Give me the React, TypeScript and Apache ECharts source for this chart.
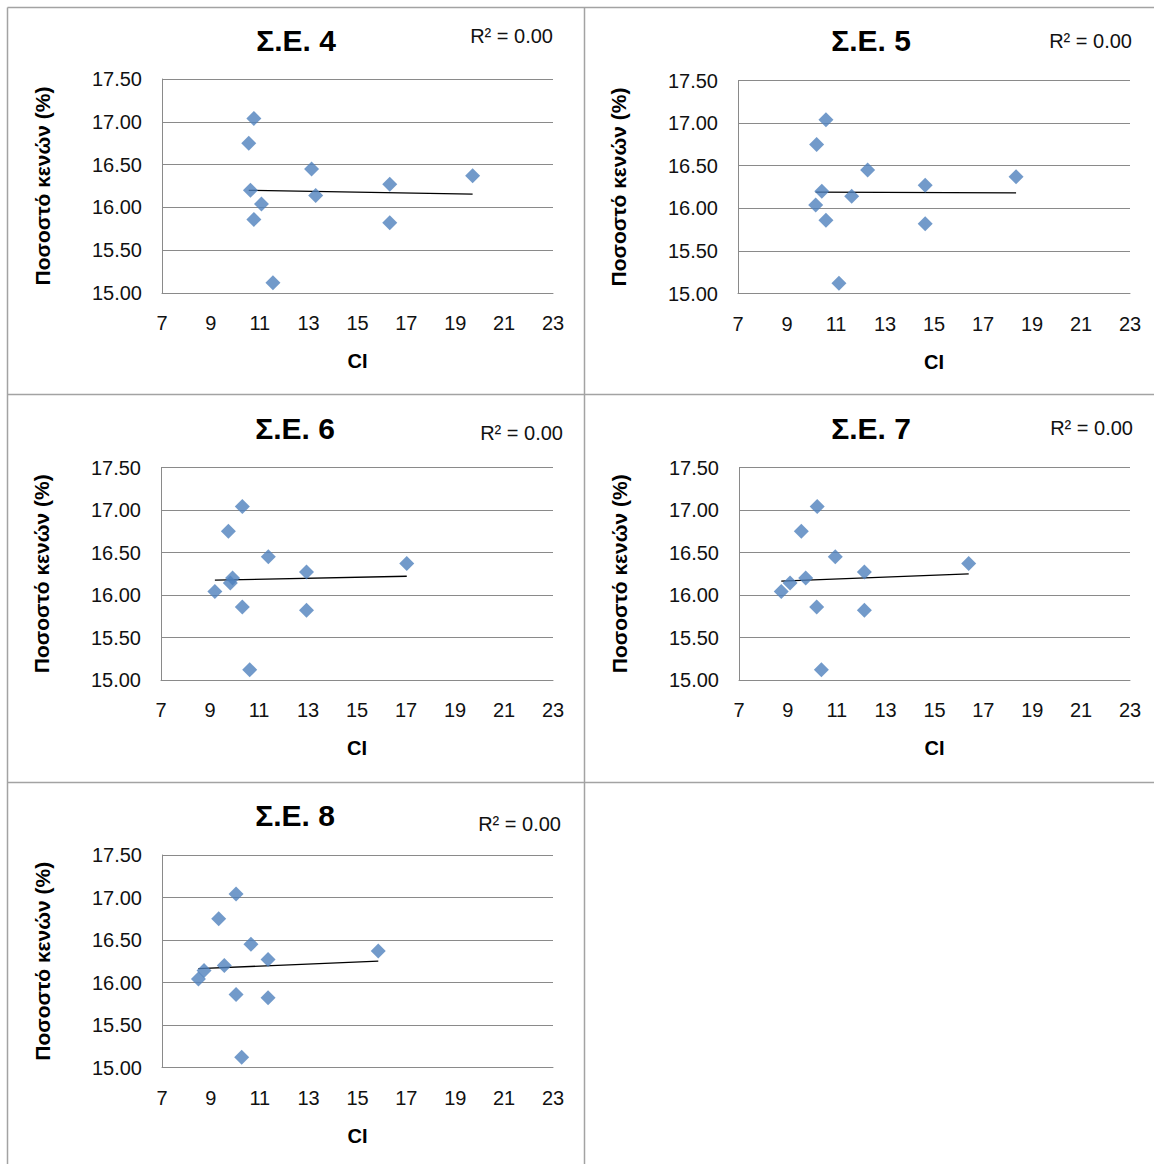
import React, { useEffect, useRef } from "react";
import * as echarts from "echarts";

// Void content (%) – same specimens in every panel
const voidContent = [17.04, 16.75, 16.45, 16.37, 16.27, 16.2, 16.14, 16.04, 15.86, 15.82, 15.12];

// CI values per mix (Σ.Ε. 4 … Σ.Ε. 8)
const ciSE4 = [10.76, 10.55, 13.12, 19.71, 16.32, 10.62, 13.29, 11.07, 10.76, 16.32, 11.54];
const ciSE5 = [10.59, 10.21, 12.29, 18.35, 14.64, 10.42, 11.64, 10.17, 10.59, 14.64, 11.12];
const ciSE6 = [10.32, 9.75, 11.38, 17.03, 12.94, 9.92, 9.83, 9.2, 10.32, 12.94, 10.62];
const ciSE7 = [10.2, 9.55, 10.94, 16.4, 12.13, 9.73, 9.09, 8.73, 10.18, 12.13, 10.37];
const ciSE8 = [10.03, 9.32, 10.64, 15.85, 11.34, 9.55, 8.72, 8.49, 10.03, 11.34, 10.26];

const panelTitles = ["Σ.Ε. 4", "Σ.Ε. 5", "Σ.Ε. 6", "Σ.Ε. 7", "Σ.Ε. 8"];
const panelCI = [ciSE4, ciSE5, ciSE6, ciSE7, ciSE8];

const xTicks = { min: 7, max: 23, interval: 2 };
const yTicks = { min: 15, max: 17.5, interval: 0.5 };

const yAxisTitle = "Ποσοστό κενών (%)";
const xAxisTitle = "CI";

// Layout of each panel: plot area, title centre, R² anchor
const layout = [
  { grid: [162, 79, 391, 214], title: [296, 40], r2: [553, 36] },
  { grid: [738, 80.5, 392, 213], title: [871, 40], r2: [1132, 41] },
  { grid: [161, 467.5, 392, 212.5], title: [295, 428], r2: [563, 433] },
  { grid: [739, 467.5, 391, 212.5], title: [871, 428], r2: [1133, 428] },
  { grid: [162, 855, 391, 212.5], title: [295, 815], r2: [561, 824] },
];

const FONT = 'Arial, "Liberation Sans", sans-serif';
const BORDER = "#a3a3a3";
const GRIDLINE = "#8a8a8a";
const MARKER = "#4f81bd";

function regression(xs: number[], ys: number[]) {
  const n = xs.length;
  const mx = xs.reduce((a, b) => a + b, 0) / n;
  const my = ys.reduce((a, b) => a + b, 0) / n;
  let sxy = 0,
    sxx = 0,
    syy = 0;
  for (let i = 0; i < n; i++) {
    sxy += (xs[i] - mx) * (ys[i] - my);
    sxx += (xs[i] - mx) ** 2;
    syy += (ys[i] - my) ** 2;
  }
  const slope = sxy / sxx;
  const intercept = my - slope * mx;
  const r2 = (sxy * sxy) / (sxx * syy);
  return { slope, intercept, r2, xmin: Math.min(...xs), xmax: Math.max(...xs) };
}

export default function App() {
  const ref = useRef<HTMLDivElement>(null);

  useEffect(() => {
    if (!ref.current) return;
    const chart = echarts.init(ref.current, undefined, { renderer: "svg" });

    const grids: any[] = [];
    const xAxes: any[] = [];
    const yAxes: any[] = [];
    const series: any[] = [];
    const graphics: any[] = [];

    panelCI.forEach((ci, i) => {
      const L = layout[i];
      const [gl, gt, gw, gh] = L.grid;
      grids.push({ left: gl, top: gt, width: gw, height: gh, containLabel: false });

      xAxes.push({
        type: "value",
        gridIndex: i,
        ...xTicks,
        name: xAxisTitle,
        nameLocation: "middle",
        nameGap: 58,
        nameTextStyle: { fontFamily: FONT, fontSize: 20, fontWeight: "bold", color: "#000" },
        axisLine: { show: true, lineStyle: { color: GRIDLINE, width: 1 } },
        axisTick: { show: false },
        splitLine: { show: false },
        axisLabel: { fontFamily: FONT, fontSize: 20, color: "#111", margin: 20 },
      });

      yAxes.push({
        type: "value",
        gridIndex: i,
        ...yTicks,
        name: yAxisTitle,
        nameLocation: "middle",
        nameRotate: 90,
        nameGap: 109,
        nameTextStyle: { fontFamily: FONT, fontSize: 21, fontWeight: "bold", color: "#000" },
        axisLine: { show: true, lineStyle: { color: GRIDLINE, width: 1 } },
        axisTick: { show: false },
        splitLine: { show: true, lineStyle: { color: GRIDLINE, width: 1 } },
        axisLabel: {
          fontFamily: FONT,
          fontSize: 20,
          color: "#111",
          margin: 20,
          formatter: (v: number) => v.toFixed(2),
        },
      });

      series.push({
        type: "scatter",
        xAxisIndex: i,
        yAxisIndex: i,
        symbol: "diamond",
        symbolSize: 15,
        itemStyle: { color: MARKER },
        data: ci.map((x, k) => [x, voidContent[k]]),
        z: 3,
      });

      const fit = regression(ci, voidContent);
      series.push({
        type: "line",
        xAxisIndex: i,
        yAxisIndex: i,
        symbol: "none",
        lineStyle: { color: "#000", width: 1.3 },
        data: [
          [fit.xmin, fit.intercept + fit.slope * fit.xmin],
          [fit.xmax, fit.intercept + fit.slope * fit.xmax],
        ],
        z: 2,
      });

      graphics.push({
        type: "text",
        x: L.title[0],
        y: L.title[1],
        style: {
          text: panelTitles[i],
          fontFamily: FONT,
          fontSize: 30,
          fontWeight: "bold",
          fill: "#000",
          align: "center",
          verticalAlign: "middle",
        },
      });

      graphics.push({
        type: "text",
        x: L.r2[0],
        y: L.r2[1],
        style: {
          text: `R² = ${fit.r2.toFixed(2)}`,
          fontFamily: FONT,
          fontSize: 20,
          fill: "#111",
          align: "right",
          verticalAlign: "middle",
        },
      });
    });

    // Panel frame lines
    const frame = [
      [7.5, 7.5, 1154, 7.5],
      [7.5, 7.5, 7.5, 1164],
      [584.5, 7.5, 584.5, 1164],
      [7.5, 394.5, 1154, 394.5],
      [7.5, 782.5, 1154, 782.5],
    ];
    frame.forEach(([x1, y1, x2, y2]) =>
      graphics.push({
        type: "line",
        shape: { x1, y1, x2, y2 },
        style: { stroke: BORDER, lineWidth: 1.5 },
        z: 0,
      })
    );

    chart.setOption({
      animation: false,
      backgroundColor: "#fff",
      grid: grids,
      xAxis: xAxes,
      yAxis: yAxes,
      series,
      graphic: graphics,
    });

    return () => chart.dispose();
  }, []);

  return (
    <div
      ref={ref}
      style={{ position: "absolute", left: 0, top: 0, width: 1154, height: 1164 }}
    />
  );
}
